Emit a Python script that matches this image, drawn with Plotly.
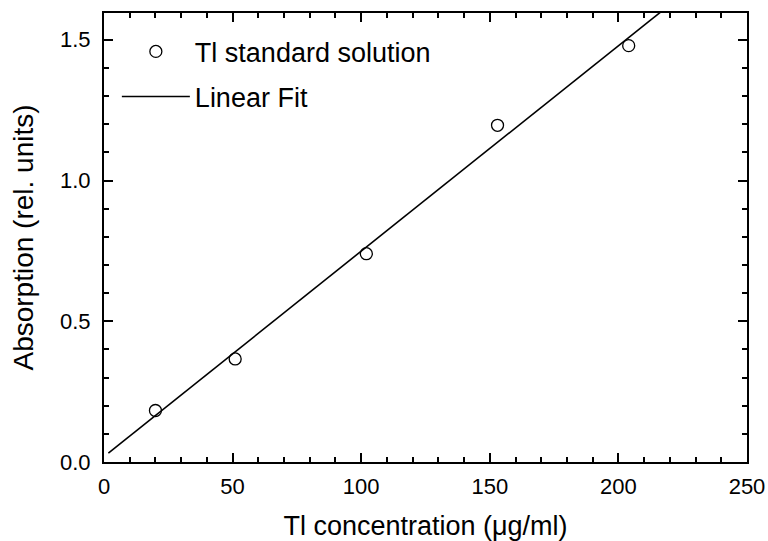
import numpy as np
import plotly.graph_objects as go

# Data
conc = [20, 51, 102, 153, 204]                       # Tl concentration (µg/ml)
absorption = [0.183, 0.366, 0.740, 1.196, 1.479]     # Absorption (rel. units)
fit_range = [1.7, 250]                               # x-extent of the fitted line

slope, intercept = np.polyfit(conc, absorption, 1)
fit_x = np.array(fit_range)
fit_y = slope * fit_x + intercept

FONT = "Liberation Sans, Arial, Helvetica, sans-serif"

fig = go.Figure()
fig.add_trace(go.Scatter(
    x=conc, y=absorption, mode="markers", name="Tl standard solution",
    legendgroup="a",
    marker=dict(symbol="circle-open", size=12, color="black", line=dict(width=1.3, color="black")),
))
fig.add_trace(go.Scatter(
    x=fit_x, y=fit_y, mode="lines", name="Linear Fit", legendgroup="b",
    line=dict(color="black", width=1.6),
))

axis_common = dict(
    showline=True, linecolor="black", linewidth=2, mirror="ticks",
    ticks="inside", ticklen=9, tickwidth=2, tickcolor="black",
    showgrid=False, zeroline=False, automargin=False,
    tickfont=dict(family=FONT, size=22, color="black"),
)

fig.update_xaxes(
    range=[0, 250], dtick=50, tick0=0, ticklabelstandoff=4,
    minor=dict(ticks="inside", ticklen=5, dtick=10, tickwidth=2, tickcolor="black", showgrid=False),
    title=dict(text="Tl concentration (μg/ml)", font=dict(family=FONT, size=27, color="black"), standoff=20),
    **axis_common,
)
fig.update_yaxes(
    range=[0, 1.595], dtick=0.5, tick0=0, tickformat=".1f", ticklabelstandoff=7,
    minor=dict(ticks="inside", ticklen=5, dtick=0.1, tickwidth=2, tickcolor="black", showgrid=False),
    title=dict(text="Absorption (rel. units)", font=dict(family=FONT, size=28, color="black"), standoff=18),
    **axis_common,
)

fig.update_layout(
    width=768, height=541,
    margin=dict(l=104, r=21, t=13, b=79),
    paper_bgcolor="white", plot_bgcolor="white",
    showlegend=True,
    legend=dict(
        x=0.02, y=0.968, xanchor="left", yanchor="top",
        font=dict(family=FONT, size=27, color="black"),
        bgcolor="rgba(0,0,0,0)", tracegroupgap=7, itemwidth=68,
    ),
)

fig.write_html("out.html")
